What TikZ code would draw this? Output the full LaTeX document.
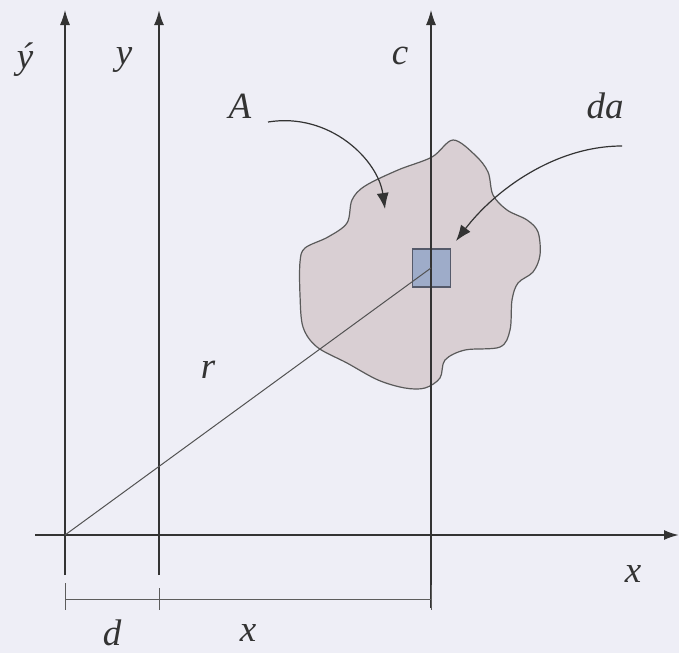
\documentclass[tikz,border=0pt]{standalone}
\usepackage{fontspec}
\setmainfont{Liberation Serif}
\usetikzlibrary{arrows.meta}
\definecolor{bg}{HTML}{EEEEF6}
\definecolor{blobfill}{HTML}{D9CFD3}
\definecolor{blobline}{HTML}{5A5A5A}
\definecolor{sqfill}{HTML}{9EACC9}
\definecolor{sqline}{HTML}{555A6A}
\definecolor{ink}{HTML}{333333}
\begin{document}
\begin{tikzpicture}[x=1pt,y=-1pt,
  lbl/.style={font=\fontsize{37}{40}\selectfont\itshape, text=ink, inner sep=0pt},
  axisthin/.style={draw=ink, line width=1.1pt},
  axisthick/.style={draw=ink, line width=2pt},
  tip/.style={-{Latex[length=15pt,width=10pt]}},
  pointer/.style={draw=ink, line width=1.2pt, -{Latex[length=16pt,width=12pt]}},
  dimline/.style={draw=ink!80, line width=1pt}]
\fill[bg] (0,0) rectangle (679,653);
\useasboundingbox (0,0) rectangle (679,653);

% coordinates
\coordinate (O1) at (65,535);
\coordinate (O2) at (159,535);
\coordinate (C0) at (431,535);
\coordinate (T1) at (65,10);
\coordinate (T2) at (159,10);
\coordinate (T3) at (431,10);
\coordinate (B1) at (65,575);
\coordinate (B2) at (159,575);
\coordinate (B3) at (431,608);
\coordinate (XL) at (35,535);
\coordinate (XR) at (679,535);
\coordinate (P) at (431,268);

% area A
\draw[fill=blobfill, draw=blobline, line width=1.2pt] plot[smooth cycle, tension=0.55] coordinates {
 (453,140) (475,155) (488,172) (493,195) (507,210) (527,220) (538,232) (540,255)
 (533,272) (518,283) (512,300) (510,330) (500,347) (465,350) (445,360) (440,378)
 (425,388) (405,388) (378,380) (347,363) (317,347) (303,327) (300,295) (300,262)
 (305,248) (328,237) (347,223) (352,200) (365,186) (398,170) (432,157)};

% element da
\node[draw=sqline, fill=sqfill, line width=1.2pt, minimum size=38pt, inner sep=0pt] (sq) at (431.5,268) {};

% axes
\draw[axisthin, tip] (B1) -- (T1);
\draw[axisthick, tip] (B2) -- (T2);
\draw[axisthin, tip] (B3) -- (T3);
\draw[axisthick, tip] (XL) -- (XR);

% radius r
\draw[draw=ink!85, line width=1pt] (O1) -- (P);

% dimension line
\coordinate (D1) at (65,599);
\coordinate (D2) at (159,599);
\coordinate (D3) at (431,599);
\draw[dimline] (D1) -- (D3);
\draw[dimline] (65,583) -- (65,610);
\draw[dimline] (159,588) -- (159,610);
\draw[dimline] (431,585) -- (431,610);

% labels
\node[lbl] (ly1) at (25,60) {ý};
\node[lbl] (ly2) at (124,60) {y};
\node[lbl] (lc) at (400,56) {c};
\node[lbl] (lA) at (240,106) {A};
\node[lbl] (lda) at (605,106) {da};
\node[lbl] (lr) at (208,370) {r};
\node[lbl] (lx) at (633,574) {x};
\node[lbl] (ld) at (112,633) {d};
\node[lbl] (lx2) at (248,633) {x};

% pointers
\coordinate (Astart) at (268,122);
\coordinate (Aend) at (385,209);
\coordinate (dstart) at (622,146);
\coordinate (dend) at (456,241);
\draw[pointer] (Astart) .. controls (330,112) and (378,160) .. (Aend);
\draw[pointer] (dstart) .. controls (555,146) and (495,190) .. (dend);
\end{tikzpicture}
\end{document}
